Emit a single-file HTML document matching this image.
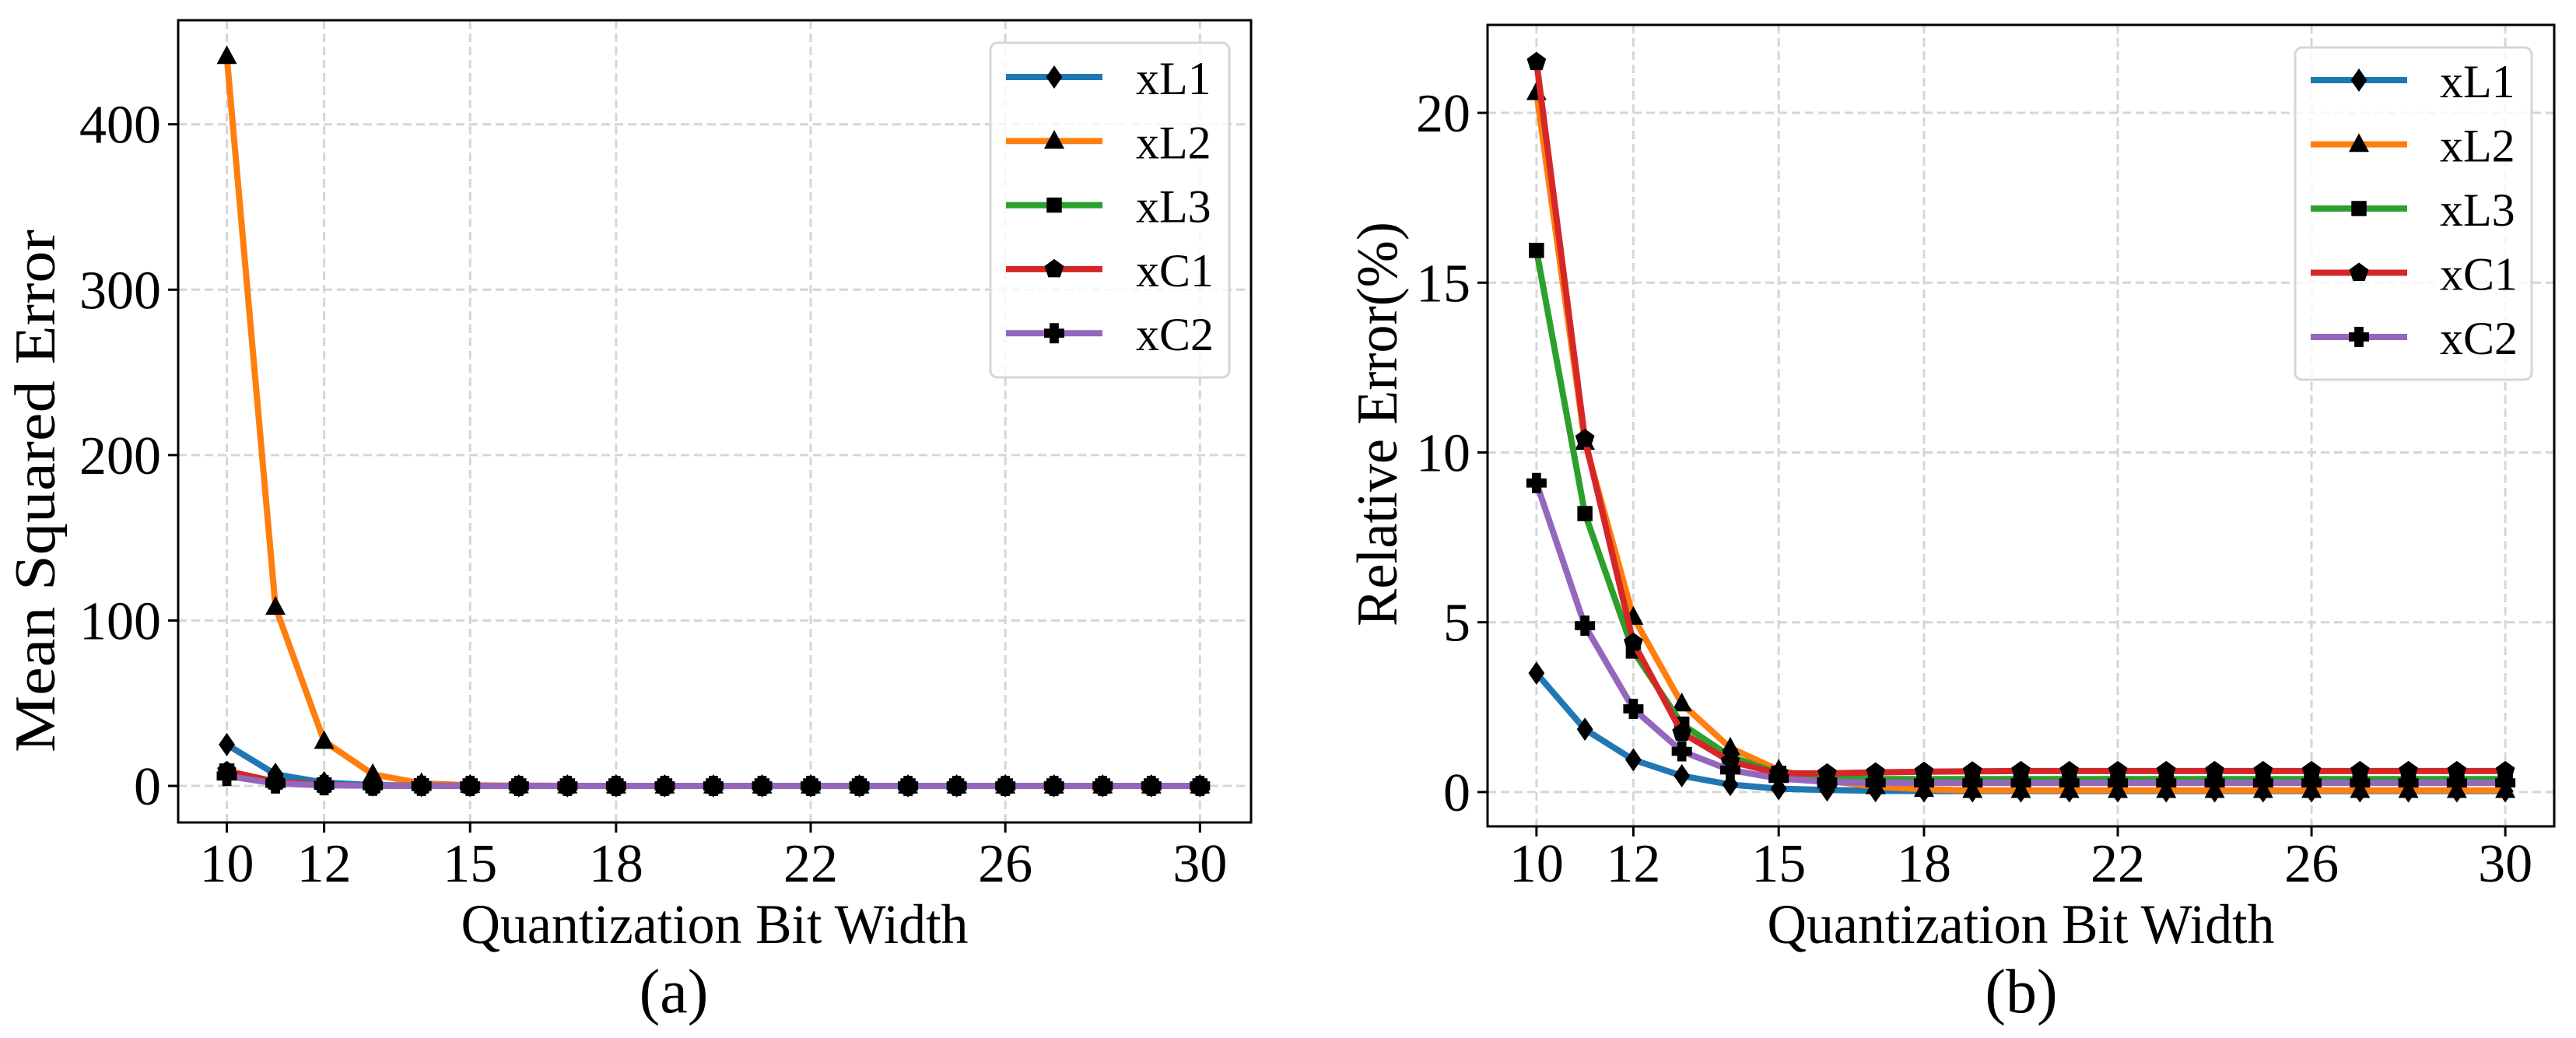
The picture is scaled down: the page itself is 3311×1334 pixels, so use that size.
<!DOCTYPE html>
<html><head><meta charset="utf-8"><style>
html,body{margin:0;padding:0;background:#fff;}
svg{display:block;font-family:"Liberation Serif","DejaVu Serif",serif;}
</style></head><body>
<svg id="fig" width="3311" height="1334" viewBox="0 0 3311 1334" xmlns="http://www.w3.org/2000/svg"></svg>
<script>
const bits = [10,11,12,13,14,15,16,17,18,19,20,21,22,23,24,25,26,27,28,29,30];
const xTicks = [10,12,15,18,22,26,30];
const seriesNames = ["xL1","xL2","xL3","xC1","xC2"];
const mseTicks = [0,100,200,300,400];
const relTicks = [0,5,10,15,20];
const mseL1 = [25,7,2,0.5,0.2,0.1,0.05,0.03,0.02,0.02,0.02,0.02,0.02,0.02,0.02,0.02,0.02,0.02,0.02,0.02,0.02];
const mseL2 = [441,108,27,7,1.5,0.4,0.1,0.05,0.02,0.02,0.02,0.02,0.02,0.02,0.02,0.02,0.02,0.02,0.02,0.02,0.02];
const mseL3 = [9,2.5,0.6,0.2,0.1,0.05,0.03,0.02,0.02,0.02,0.02,0.02,0.02,0.02,0.02,0.02,0.02,0.02,0.02,0.02,0.02];
const mseC1 = [9,2.5,0.6,0.2,0.1,0.05,0.03,0.02,0.02,0.02,0.02,0.02,0.02,0.02,0.02,0.02,0.02,0.02,0.02,0.02,0.02];
const mseC2 = [6,1.5,0.4,0.1,0.05,0.03,0.02,0.02,0.02,0.02,0.02,0.02,0.02,0.02,0.02,0.02,0.02,0.02,0.02,0.02,0.02];
const relL1 = [3.5,1.85,0.95,0.48,0.22,0.1,0.06,0.04,0.03,0.03,0.03,0.03,0.03,0.03,0.03,0.03,0.03,0.03,0.03,0.03,0.03];
const relL2 = [20.6,10.3,5.15,2.6,1.3,0.65,0.33,0.16,0.08,0.05,0.05,0.05,0.05,0.05,0.05,0.05,0.05,0.05,0.05,0.05,0.05];
const relL3 = [15.95,8.2,4.15,2.0,1.05,0.55,0.42,0.38,0.38,0.38,0.38,0.38,0.38,0.38,0.38,0.38,0.38,0.38,0.38,0.38,0.38];
const relC1 = [21.5,10.4,4.4,1.75,0.9,0.55,0.55,0.58,0.6,0.61,0.62,0.62,0.62,0.62,0.62,0.62,0.62,0.62,0.62,0.62,0.62];
const relC2 = [9.1,4.9,2.45,1.2,0.65,0.4,0.3,0.27,0.27,0.27,0.27,0.27,0.27,0.27,0.27,0.27,0.27,0.27,0.27,0.27,0.27];

const NS="http://www.w3.org/2000/svg";
const svg=document.getElementById('fig');
const colors=["#1f77b4","#ff7f0e","#2ca02c","#d62728","#9467bd"];
const markers=["diamond","triangle","square","pentagon","plus"];
function mk(tag,attrs,parent){const e=document.createElementNS(NS,tag);for(const k in attrs)e.setAttribute(k,attrs[k]);(parent||svg).appendChild(e);return e;}

function marker(g,type,cx,cy,s){
  let e;
  if(type==="diamond"){e=mk('polygon',{points:`${cx},${cy-s*1.15} ${cx+s*0.8},${cy} ${cx},${cy+s*1.15} ${cx-s*0.8},${cy}`,fill:'#000'},g);}
  else if(type==="triangle"){e=mk('polygon',{points:`${cx},${cy-s*1.1} ${cx+s},${cy+s*0.75} ${cx-s},${cy+s*0.75}`,fill:'#000'},g);}
  else if(type==="square"){e=mk('rect',{x:cx-s*0.75,y:cy-s*0.75,width:s*1.5,height:s*1.5,fill:'#000'},g);}
  else if(type==="pentagon"){let p=[];for(let i=0;i<5;i++){const a=-Math.PI/2+i*2*Math.PI/5;p.push((cx+s*Math.cos(a)).toFixed(1)+','+(cy+s*Math.sin(a)).toFixed(1));}e=mk('polygon',{points:p.join(' '),fill:'#000'},g);}
  else {const w=s*0.45;e=mk('path',{d:`M${cx-w},${cy-s} h${2*w} v${s-w} h${s-w} v${2*w} h${-(s-w)} v${s-w} h${-2*w} v${-(s-w)} h${-(s-w)} v${-2*w} h${s-w} z`,fill:'#000'},g);}
  
  
}

function panel(cfg){
  const {L,R,T,B,xmin,xmax,ymin,ymax,yTicks,data,ylabel,ylabX,ylabY,ylabLen,cap,capX,legend,name}=cfg;
  const g=mk('g',{});  
  const X=v=>L+(v-xmin)/(xmax-xmin)*(R-L);
  const Y=v=>B-(v-ymin)/(ymax-ymin)*(B-T);
  const grid=mk('g',{stroke:'#d6d6d6','stroke-width':3,'stroke-dasharray':'11,6'},g);
   
  xTicks.forEach(t=>mk('line',{x1:X(t),x2:X(t),y1:T,y2:B},grid));
  yTicks.forEach(t=>mk('line',{x1:L,x2:R,y1:Y(t),y2:Y(t)},grid));
  const clip='clip-'+name;
  const cp=mk('clipPath',{id:clip},g); mk('rect',{x:L,y:T,width:R-L,height:B-T},cp);
  const sg=mk('g',{'clip-path':`url(#${clip})`},g);
  data.forEach((arr,i)=>{
    const s=mk('g',{},sg);
    
    
    const pl=mk('polyline',{points:arr.map((v,j)=>X(bits[j]).toFixed(1)+','+Y(v).toFixed(1)).join(' '),fill:'none',stroke:colors[i],'stroke-width':8,'stroke-linejoin':'round'},s);
    
    
    arr.forEach((v,j)=>marker(s,markers[i],X(bits[j]),Y(v),13));
  });
  const fr=mk('rect',{x:L,y:T,width:R-L,height:B-T,fill:'none',stroke:'#000','stroke-width':3},g);
   
  xTicks.forEach(t=>{
    mk('line',{x1:X(t),x2:X(t),y1:B,y2:B+13,stroke:'#000','stroke-width':3},g);
    const tx=mk('text',{x:X(t),y:1133,'font-size':70,'text-anchor':'middle'},g);
    tx.textContent=t;
     
  });
  yTicks.forEach(t=>{
    mk('line',{x1:L-13,x2:L,y1:Y(t),y2:Y(t),stroke:'#000','stroke-width':3},g);
    const tx=mk('text',{x:L-22,y:Y(t)+24,'font-size':70,'text-anchor':'end'},g);
    tx.textContent=t;
     
  });
  const cx=(L+R)/2;
  const xl=mk('text',{x:cx,y:1212,'font-size':72,'text-anchor':'middle',textLength:652,lengthAdjust:'spacingAndGlyphs'},g);
  xl.textContent='Quantization Bit Width';
   
  const yl=mk('text',{x:0,y:0,'font-size':74,'text-anchor':'middle',textLength:ylabLen,lengthAdjust:'spacingAndGlyphs',transform:`translate(${ylabX+25},${ylabY}) rotate(-90)`},g);
  yl.textContent=ylabel;
   
  const cpn=mk('text',{x:capX,y:1301,'font-size':80,'text-anchor':'middle'},g);
  cpn.textContent=cap;
   
  const lg=mk('g',{},g);
   
  mk('rect',{x:legend.x,y:legend.y,width:legend.w,height:legend.h,rx:9,fill:'#fff','fill-opacity':0.8,stroke:'#d6d6d6','stroke-width':3},lg);
  seriesNames.forEach((n,i)=>{
    const ry=legend.r0+i*legend.dr;
    const le=mk('g',{},lg);
     
    mk('line',{x1:legend.lx,x2:legend.lx+124,y1:ry,y2:ry,stroke:colors[i],'stroke-width':8},le);
    marker(le,markers[i],legend.lx+62,ry,13);
    const t=mk('text',{x:legend.tx,y:ry+22,'font-size':60},le);
    t.textContent=n;
  });
}

panel({name:'panel-a-mse',L:229,R:1608,T:26,B:1057,xmin:9,xmax:31.05,ymin:-22.1,ymax:462.9,yTicks:mseTicks,
  data:[mseL1,mseL2,mseL3,mseC1,mseC2],ylabel:'Mean Squared Error',ylabX:45,ylabY:631,ylabLen:672,cap:'(a)',capX:866,
  legend:{x:1273,y:55,w:307,h:430,lx:1293,tx:1460,r0:99,dr:82.3}});
panel({name:'panel-b-relative-error',L:1912,R:3283,T:32,B:1062,xmin:8.99,xmax:31.01,ymin:-1.01,ymax:22.59,yTicks:relTicks,
  data:[relL1,relL2,relL3,relC1,relC2],ylabel:'Relative Error(%)',ylabX:1770,ylabY:545,ylabLen:520,cap:'(b)',capX:2598,
  legend:{x:2950,y:61,w:304,h:427,lx:2970,tx:3136,r0:103,dr:82.5}});
</script>
</body></html>
